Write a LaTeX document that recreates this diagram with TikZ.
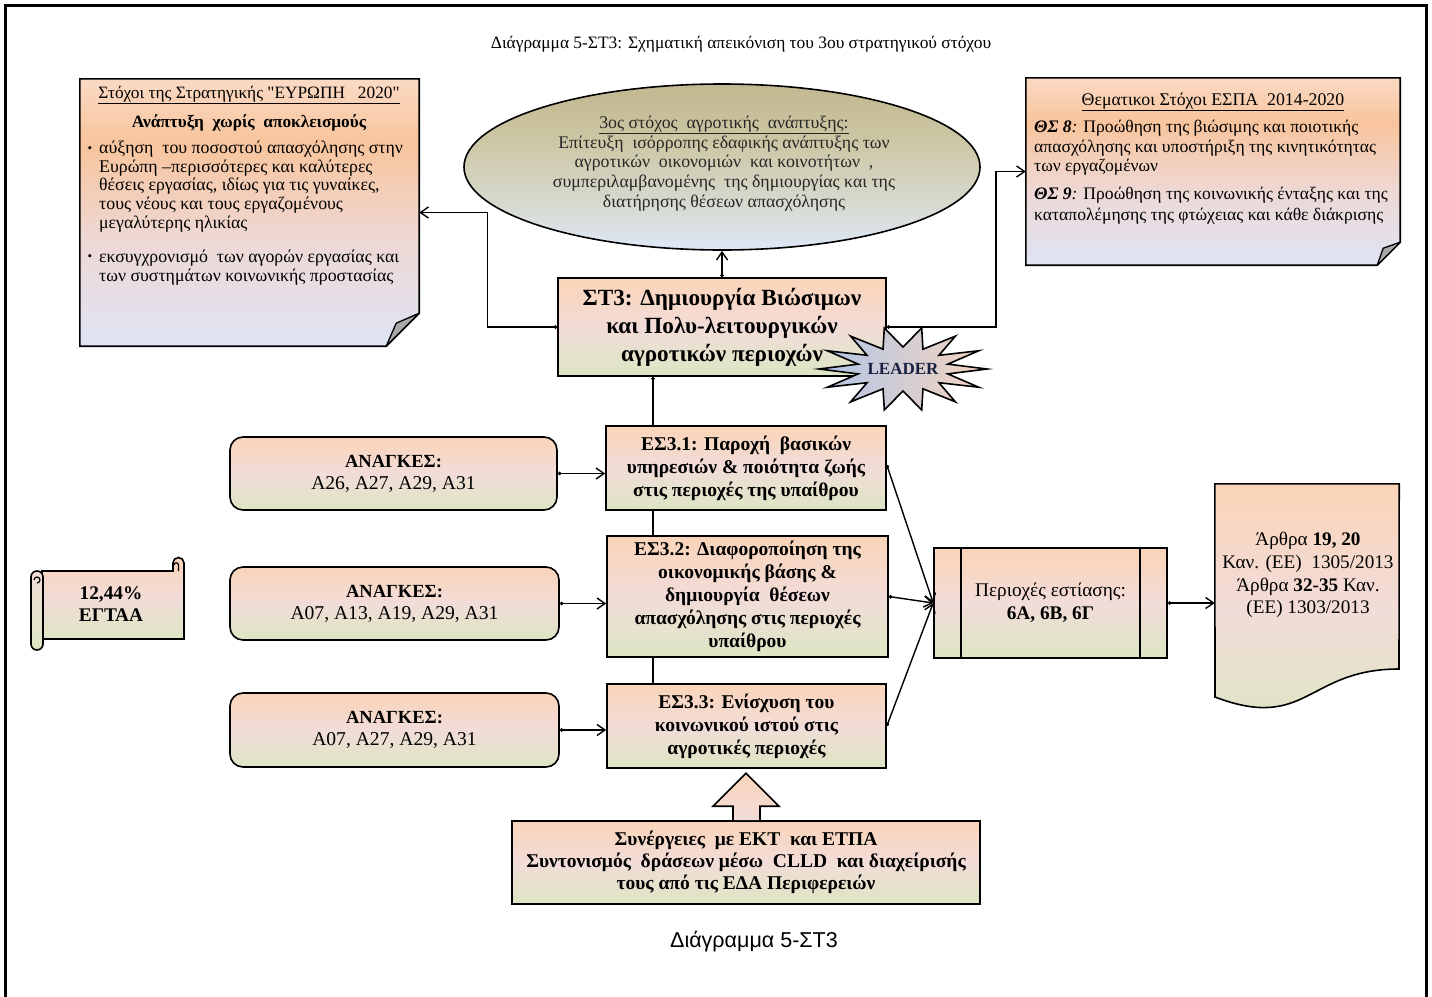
\documentclass[tikz,border=0pt]{standalone}
\usepackage{fontspec}
\setmainfont{Liberation Serif}[Ligatures=TeXOff]
\newfontfamily\capfont{Liberation Sans}
\usetikzlibrary{arrows.meta,shapes.geometric,calc}
\definecolor{gT}{RGB}{250,212,184}
\definecolor{gM}{RGB}{242,220,216}
\definecolor{gB}{RGB}{220,230,196}
\definecolor{nT}{RGB}{250,218,196}
\definecolor{nO}{RGB}{248,196,156}
\definecolor{nM}{RGB}{238,216,212}
\definecolor{nB}{RGB}{222,228,244}
\definecolor{eT}{RGB}{194,184,144}
\definecolor{eM}{RGB}{204,198,164}
\definecolor{eL}{RGB}{214,216,204}
\definecolor{eB}{RGB}{222,232,248}
\definecolor{sB}{RGB}{176,198,230}
\definecolor{sP}{RGB}{246,212,192}
\definecolor{navy}{RGB}{22,32,62}
\definecolor{foldgray}{RGB}{168,168,168}
\pgfdeclareverticalshading{boxshade}{100bp}{color(0bp)=(gB); color(25bp)=(gB); color(50bp)=(gM); color(75bp)=(gT); color(100bp)=(gT)}
\pgfdeclareverticalshading{noteshade}{100bp}{color(0bp)=(nB); color(25bp)=(nB); color(45bp)=(nM); color(63bp)=(nO); color(75bp)=(nT); color(100bp)=(nT)}
\pgfdeclareverticalshading{ellshade}{100bp}{color(0bp)=(eB); color(25bp)=(eB); color(40bp)=(eL); color(58bp)=(eM); color(75bp)=(eT); color(100bp)=(eT)}
\begin{document}
\begin{tikzpicture}[x=1pt,y=-1pt,
  box/.style={draw, line width=1.6pt, shading=boxshade, inner sep=0pt, align=center},
  rbox/.style={box, rounded corners=13pt},
  conn/.style={line width=1.4pt, {Circle[length=3.5pt]}-{Straight Barb[length=8pt,width=11pt]}},
  link/.style={line width=1.4pt},
  dlink/.style={line width=1.4pt, {Circle[length=3.5pt]}-},
  fold/.style={draw, line width=1.3pt, fill=foldgray, line join=round},
  txt/.style={inner sep=0pt, align=center},
  ltxt/.style={inner sep=0pt, align=left, anchor=west},
  ftiny/.style={font=\fontsize{17.4}{20}\selectfont},
  fnote/.style={font=\fontsize{17.8}{18.6}\selectfont},
  fbox/.style={font=\fontsize{19.5}{23}\selectfont\bfseries},
  fneed/.style={font=\fontsize{18.5}{22}\selectfont},
]
\useasboundingbox (0,0) rectangle (1432,996);
\clip (0,0) rectangle (1432,996);
\draw[line width=3pt] (5.5,5.5) rectangle (1426.5,1030);

% title
\node[txt, ftiny] (title) at (741,44) {Διάγραμμα 5-ΣΤ3: Σχηματική απεικόνιση του 3ου στρατηγικού στόχου};

% EU 2020 note
\node[minimum width=339pt, minimum height=267pt, inner sep=0pt] (eu) at (249.5,212.5) {};
\draw[line width=1.6pt, shading=noteshade] (eu.north west) -- (eu.north east) -- ([yshift=33pt]eu.south east) -- ([xshift=-33pt]eu.south east) -- (eu.south west) -- cycle;
\draw[fold] ([yshift=33pt]eu.south east) -- ([xshift=-33pt]eu.south east) -- ([xshift=-23pt,yshift=23pt]eu.south east) -- cycle;
\node[txt, font=\fontsize{17.3}{19}\selectfont] (eut) at (249,95) {\underline{Στόχοι της Στρατηγικής "ΕΥΡΩΠΗ\ \ \ 2020"}};
\node[txt, font=\fontsize{17.3}{19}\selectfont\bfseries] (eub) at (249,123) {Ανάπτυξη\ \ χωρίς\ \ αποκλεισμούς};
\node[txt, font=\fontsize{13}{15}\selectfont] (eud1) at (90,150) {•};
\node[ltxt, fnote] (eup1) at (99,186.6) {αύξηση\ \ του ποσοστού απασχόλησης\ στην\\Ευρώπη –περισσότερες και καλύτερες\\θέσεις εργασίας, ιδίως για τις γυναίκες,\\τους νέους και τους εργαζομένους\\μεγαλύτερης ηλικίας};
\node[txt, font=\fontsize{13}{15}\selectfont] (eud2) at (90,258) {•};
\node[ltxt, fnote] (eup2) at (99,267.5) {εκσυγχρονισμό\ \ των αγορών\ εργασίας και\\των\ συστημάτων\ κοινωνικής\ προστασίας};

% ESPA note
\node[minimum width=374pt, minimum height=187pt, inner sep=0pt] (espa) at (1213,171.5) {};
\draw[line width=1.6pt, shading=noteshade] (espa.north west) -- (espa.north east) -- ([yshift=23pt]espa.south east) -- ([xshift=-23pt]espa.south east) -- (espa.south west) -- cycle;
\draw[fold] ([yshift=23pt]espa.south east) -- ([xshift=-23pt]espa.south east) -- ([xshift=-17pt,yshift=17pt]espa.south east) -- cycle;
\node[txt, fnote] (espat) at (1213,102) {\underline{Θεματικοι Στόχοι ΕΣΠΑ\ \ 2014-2020}};
\node[ltxt, font=\fontsize{17.6}{19.5}\selectfont] (espa1) at (1034,147.7) {\textbf{\textit{ΘΣ 8}}\textit{:} Προώθηση\ της βιώσιμης και ποιοτικής\\απασχόλησης\ και υποστήριξη\ της κινητικότητας\\των\ εργαζομένων};
\node[ltxt, font=\fontsize{17.6}{21}\selectfont] (espa2) at (1034,206) {\textbf{\textit{ΘΣ 9}}\textit{:} Προώθηση\ της κοινωνικής\ ένταξης και της\\καταπολέμησης\ της φτώχειας και κάθε διάκρισης};

% goal ellipse
\node[ellipse, draw, line width=1.6pt, shading=ellshade, minimum width=516pt, minimum height=166pt, inner sep=0pt] (goal) at (722,167) {};
\node[txt, font=\fontsize{17.8}{19.8}\selectfont, text=black!85] (goalt) at (724,163.5) {\underline{3ος στόχος\ \ αγροτικής\ \ ανάπτυξης:}\\Επίτευξη\ \ ισόρροπης εδαφικής ανάπτυξης των\\αγροτικών\ \ οικονομιών\ \ και κοινοτήτων\ \ ,\\συμπεριλαμβανομένης\ \ της δημιουργίας και της\\διατήρησης θέσεων απασχόλησης};

% main strategic box
\node[box, minimum width=328pt, minimum height=98pt, font=\fontsize{23.2}{28}\selectfont\bfseries] (st3) at (722,327) {ΣΤ3: Δημιουργία Βιώσιμων\\και Πολυ-λειτουργικών\\αγροτικών περιοχών};

% specific goals
\node[box, fbox, minimum width=280pt, minimum height=84pt] (es1) at (746,468) {ΕΣ3.1: Παροχή\ \ βασικών\\υπηρεσιών \& ποιότητα ζωής\\στις περιοχές της υπαίθρου};
\node[box, fbox, minimum width=281pt, minimum height=121pt] (es2) at (747.5,596.5) {ΕΣ3.2: Διαφοροποίηση της\\οικονομικής βάσης \&\\δημιουργία\ \ θέσεων\\απασχόλησης στις περιοχές\\υπαίθρου};
\node[box, fbox, minimum width=279pt, minimum height=84pt] (es3) at (746.5,726) {ΕΣ3.3: Ενίσχυση του\\κοινωνικού ιστού στις\\αγροτικές περιοχές};

% needs
\node[rbox, fneed, minimum width=327pt, minimum height=73pt] (n1) at (393.5,473.5) {\textbf{ΑΝΑΓΚΕΣ:}\\\fontsize{19.6}{22}\selectfont Α26, Α27, Α29, Α31};
\node[rbox, fneed, minimum width=329pt, minimum height=73pt] (n2) at (394.5,603.5) {\textbf{ΑΝΑΓΚΕΣ:}\\\fontsize{19.6}{22}\selectfont Α07, Α13, Α19, Α29, Α31};
\node[rbox, fneed, minimum width=329pt, minimum height=74pt] (n3) at (394.5,730) {\textbf{ΑΝΑΓΚΕΣ:}\\\fontsize{19.6}{22}\selectfont Α07, Α27, Α29, Α31};

% focus areas
\node[box, minimum width=233pt, minimum height=110pt, font=\fontsize{19.3}{23}\selectfont] (per) at (1050.5,603) {Περιοχές εστίασης:\\\textbf{6Α, 6Β, 6Γ}};
\draw[line width=1.6pt] ([xshift=28pt]per.north west) -- ([xshift=28pt]per.south west);
\draw[line width=1.6pt] ([xshift=-28pt]per.north east) -- ([xshift=-28pt]per.south east);

% regulation document
\node[minimum width=184pt, minimum height=231pt, inner sep=0pt] (doc) at (1307,599.5) {};
\draw[line width=1.6pt, shading=boxshade] (doc.north west) -- (doc.north east) -- (1399,669) .. controls (1307,669) and (1307,732) .. (1215,697) -- cycle;
\node[txt, font=\fontsize{19.2}{22.7}\selectfont] (doct) at (1308,575) {Άρθρα \textbf{19, 20}\\Καν. (ΕΕ)\ \ 1305/2013\\Άρθρα \textbf{32-35} Καν.\\(ΕΕ)\ 1303/2013};

% synergies box with up arrow
\node[box, minimum width=468pt, minimum height=83pt, font=\fontsize{19.5}{22.3}\selectfont\bfseries] (src) at (746,862.5) {Συνέργειες\ \ με ΕΚΤ\ \ και ΕΤΠΑ\\Συντονισμός\ \ δράσεων μέσω\ \ CLLD\ \ και διαχείρισής\\τους από τις ΕΔΑ Περιφερειών};
\path[top color=gT, bottom color=gM] ([xshift=-13pt]src.north) -- ([xshift=-13pt,yshift=14pt]src.north) -- ([xshift=-33pt,yshift=14pt]src.north) -- ([yshift=47pt]src.north) -- ([xshift=33pt,yshift=14pt]src.north) -- ([xshift=14pt,yshift=14pt]src.north) -- ([xshift=14pt]src.north) -- cycle;
\draw[line width=1.6pt, line join=miter] ([xshift=-13pt]src.north) -- ([xshift=-13pt,yshift=14pt]src.north) -- ([xshift=-33pt,yshift=14pt]src.north) -- ([yshift=47pt]src.north) -- ([xshift=33pt,yshift=14pt]src.north) -- ([xshift=14pt,yshift=14pt]src.north) -- ([xshift=14pt]src.north);

% scroll 12,44%
\node[minimum width=144pt, minimum height=70pt, inner sep=0pt] (scr) at (112,605) {};
\draw[line width=1.6pt, shading=boxshade] (42,571) -- (173,571) -- (173,563) arc[start angle=180, end angle=360, radius=5.5] -- (184,639) -- (42,639) -- cycle;
\draw[line width=1.2pt] (178.5,571) -- (178.5,565) arc[start angle=0, end angle=-180, radius=2.2];
\draw[line width=1.6pt, top color=gM, bottom color=gB] (31,577) arc[start angle=180, end angle=360, radius=6] -- (43,644) arc[start angle=0, end angle=180, radius=6] -- cycle;
\draw[line width=1.2pt] (37,583) arc[start angle=90, end angle=-180, radius=3];
\node[txt, font=\fontsize{19.3}{22}\selectfont\bfseries] (scrt) at (111,604) {12,44\%\\ΕΓΤΑΑ};

% connectors
\draw[conn] (st3.north -| goal.south) -- (goal.south);
\draw[conn] (st3.west) -- ++(-70,0) |- (eu.east);
\draw[conn] (st3.east) -- ++(109,0) |- (espa.west);
\coordinate (sp) at (653,0);
\draw[dlink] (st3.south -| sp) -- (es1.north -| sp);
\draw[link] (es1.south -| sp) -- (es2.north -| sp);
\draw[link] (es2.south -| sp) -- (es3.north -| sp);
\draw[conn] (n1.east) -- (n1.east -| es1.west);
\draw[conn] (n2.east) -- (n2.east -| es2.west);
\draw[conn] (n3.east) -- (n3.east -| es3.west);
\draw[conn] ([yshift=3pt]es1.east) -- (per.west);
\draw[conn] (es2.east) -- (per.west);
\draw[conn] (es3.east) -- (per.west);
\draw[conn] (per.east) -- (per.east -| doc.west);

% LEADER star
\coordinate (sc) at (903,369);
\draw[line width=1.6pt, line join=miter, left color=sB, right color=sP] (sc) +(0:84 and 42) \foreach \i in {1,...,13}{ -- +(\i*25.714-12.857:46 and 22) -- +(\i*25.714:84 and 42)} -- +(347.14:46 and 22) -- cycle;
\node[txt, font=\fontsize{17}{20}\selectfont\bfseries, text=navy] (leader) at (sc) {LEADER};

% caption
\node[txt, font=\capfont\fontsize{21.5}{24}\selectfont] (cap) at (754,942) {Διάγραμμα 5-ΣΤ3};
\end{tikzpicture}
\end{document}
